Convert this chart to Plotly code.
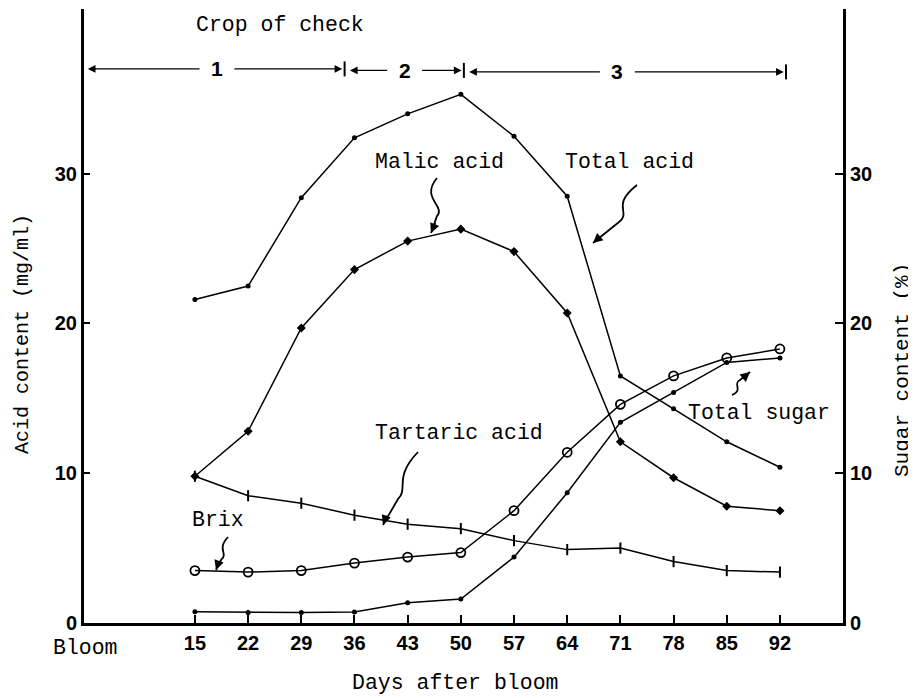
import plotly.graph_objects as go

# ---------------- data ----------------
days = [15, 22, 29, 36, 43, 50, 57, 64, 71, 78, 85, 92]
day_labels = [str(d) for d in days]

total_acid = [21.6, 22.5, 28.4, 32.4, 34.0, 35.3, 32.5, 28.5, 16.5, 14.3, 12.1, 10.4]
malic_acid = [9.8, 12.8, 19.7, 23.6, 25.5, 26.3, 24.8, 20.7, 12.1, 9.7, 7.8, 7.5]
tartaric_acid = [9.8, 8.5, 8.0, 7.2, 6.6, 6.3, 5.5, 4.9, 5.0, 4.1, 3.5, 3.4]
brix = [3.5, 3.4, 3.5, 4.0, 4.4, 4.7, 7.5, 11.4, 14.6, 16.5, 17.7, 18.3]
total_sugar = [0.75, 0.7, 0.7, 0.73, 1.35, 1.6, 4.4, 8.7, 13.4, 15.4, 17.4, 17.7]

y_ticks = [0, 10, 20, 30]
stage_names = ["1", "2", "3"]
stage_edges = [0.5, 34.7, 50.4, 92.8]

# ---------------- layout geometry ----------------
# the page body has an 8px margin, so the figure is drawn 8px smaller and
# all reference pixel positions are shifted by that offset
OFF = 8
W, H = 916 - OFF, 698 - OFF
L, R, T, B = 84, 843, 9, 623          # plot area in reference (window) pixels
XR = [0.4, 100.3]
YR = [0, 41]

def xp(px):
    return (px - L) / (R - L)

def yp(py):
    return (B - py) / (B - T)

def dx(px):
    return XR[0] + (px - L) / (R - L) * (XR[1] - XR[0])

def dy(py):
    return YR[0] + (B - py) / (B - T) * (YR[1] - YR[0])

MONO = "Liberation Mono"
SANS = "Liberation Sans"
BLACK = "black"
TXT = 21.5

fig = go.Figure()

def add_series(y, symbol, size, yaxis="y"):
    marker = dict(symbol=symbol, size=size, color=BLACK)
    if symbol == "circle-open":
        marker["line"] = dict(width=1.8, color=BLACK)
    if symbol == "line-ns":
        marker["line"] = dict(width=2, color=BLACK)
    fig.add_trace(go.Scatter(x=days, y=y, mode="lines+markers", yaxis=yaxis,
                             line=dict(color=BLACK, width=1.5),
                             marker=marker, showlegend=False, hoverinfo="skip"))

add_series(total_acid, "circle", 5)
add_series(malic_acid, "diamond", 7)
add_series(tartaric_acid, "line-ns", 8)
add_series(brix, "circle-open", 9, yaxis="y2")
add_series(total_sugar, "circle", 5, yaxis="y2")

annotations = []
shapes = []

def text(s, px, py, size=TXT, xanchor="center", family=MONO, angle=0):
    annotations.append(dict(text=s, x=xp(px), y=yp(py), xref="paper", yref="paper",
                            showarrow=False, xanchor=xanchor, yanchor="middle",
                            textangle=angle,
                            font=dict(family=family, size=size, color=BLACK)))

# stage arrows
stage_y = [37.0, 36.9, 36.8]
stage_mid = [17.9, 42.6, 70.6]
gap = 2.1
for i, name in enumerate(stage_names):
    a, b = stage_edges[i], stage_edges[i + 1]
    mid = stage_mid[i]
    yv = stage_y[i]
    tip_a = a + (0.4 if i == 0 else 0.7)
    tip_b = b - 0.3
    for tip, tail in ((tip_a, mid - gap), (tip_b, mid + gap)):
        annotations.append(dict(x=tip, y=yv, ax=tail, ay=yv, xref="x", yref="y",
                                axref="x", ayref="y", text="", showarrow=True,
                                arrowhead=2, arrowsize=1.1, arrowwidth=1.4,
                                arrowcolor=BLACK, standoff=0))
    annotations.append(dict(text=name, x=mid, y=yv, xref="x", yref="y",
                            showarrow=False,
                            font=dict(family=SANS, size=21, color=BLACK, weight="bold")))
for k, e in enumerate(stage_edges[1:]):
    yv = stage_y[k]
    shapes.append(dict(type="line", xref="x", yref="y", x0=e, x1=e,
                       y0=yv - 0.5, y1=yv + 0.5, line=dict(color=BLACK, width=2)))

# squiggly callout arrows (reference pixel paths)
def squiggle(pts, tail_off):
    (x0, y0), (c1x, c1y), (c2x, c2y), (x1, y1), (x2, y2) = pts
    path = (f"M {dx(x0)},{dy(y0)} C {dx(c1x)},{dy(c1y)} {dx(c2x)},{dy(c2y)} "
            f"{dx(x1)},{dy(y1)} L {dx(x2)},{dy(y2)}")
    shapes.append(dict(type="path", xref="x", yref="y", path=path,
                       line=dict(color=BLACK, width=1.8)))
    annotations.append(dict(x=dx(x2), y=dy(y2), xref="x", yref="y",
                            ax=tail_off[0], ay=tail_off[1], text="", showarrow=True,
                            arrowhead=2, arrowsize=1.2, arrowwidth=1.6,
                            arrowcolor=BLACK, standoff=0))

squiggle([(437, 178), (420, 198), (446, 206), (437, 216), (431, 233)], (5, -12))
squiggle([(637, 185), (610, 206), (632, 212), (619, 222), (593, 243)], (8, -7))
squiggle([(418, 452), (393, 478), (409, 488), (398, 499), (383, 525)], (4, -11))
squiggle([(228, 537), (216, 550), (229, 553), (221, 560), (216, 570)], (3, -9))
squiggle([(732, 395), (744, 390), (732, 384), (740, 380), (750, 372)], (-7, 6))

# labels
text("Crop of check", 280, 25)
text("Malic acid", 439, 162)
text("Total acid", 629, 162)
text("Tartaric acid", 373, 433, xanchor="left")
text("Brix", 190, 520, xanchor="left")
text("Total sugar", 686, 413, xanchor="left")
text("Bloom", 85, 648)
text("Days after bloom", 455, 683)
text("Acid content (mg/ml)", 22, 334, size=20, angle=-90)
text("Sugar content (%)", 902, 370, size=21, angle=-90)

tickfont = dict(family=SANS, size=20, color=BLACK, weight="bold")
axis_common = dict(showline=True, linewidth=3, linecolor=BLACK, showgrid=False,
                   zeroline=False, tickcolor=BLACK, tickfont=tickfont)

fig.update_layout(
    width=W, height=H,
    margin=dict(l=L - OFF, r=W - (R - OFF), t=T - OFF, b=H - (B - OFF)),
    paper_bgcolor="white", plot_bgcolor="white",
    xaxis=dict(range=XR, tickvals=days, ticktext=day_labels, ticks="inside",
               ticklen=8, tickwidth=2, **axis_common),
    yaxis=dict(range=YR, tickvals=y_ticks, ticks="inside", ticklen=6, tickwidth=2,
               **axis_common),
    yaxis2=dict(range=YR, tickvals=y_ticks, ticks="inside", ticklen=8, tickwidth=2,
                overlaying="y", side="right", **axis_common),
    annotations=annotations,
    shapes=shapes,
    showlegend=False,
)

fig.write_html("out.html")
